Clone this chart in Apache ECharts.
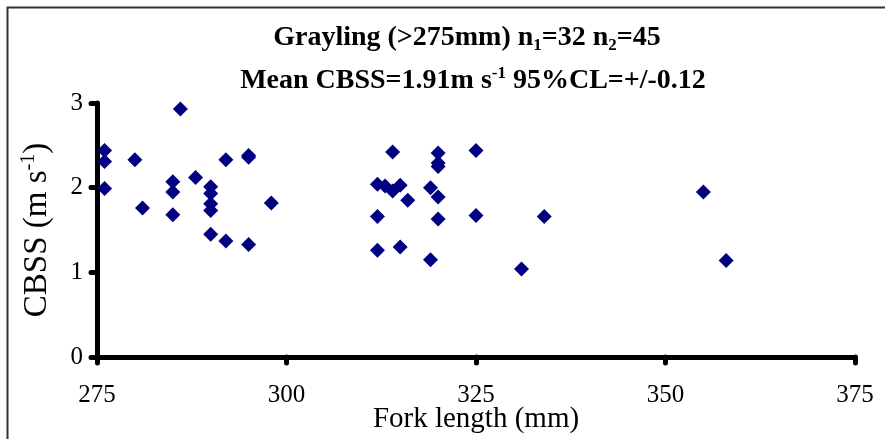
<!DOCTYPE html>
<html>
<head>
<meta charset="utf-8">
<script src="https://cdn.jsdelivr.net/npm/echarts@6/dist/echarts.min.js"></script>
<style>html,body{margin:0;padding:0;background:#fff}#c{width:885px;height:439px}</style>
</head>
<body>
<div id="c"></div>
<script>
var forkLength = [276, 276, 276, 280, 281, 285, 285, 285, 286, 288, 290, 290, 290, 290, 290, 292, 292, 295, 295, 295, 298,
  312, 312, 312, 313, 314, 314, 315, 315, 316, 319, 319, 320, 320, 320, 320, 320, 325, 325,
  331, 334, 355, 358];
var cbss = [2.44, 2.31, 1.99, 2.33, 1.76, 2.07, 1.95, 1.68, 2.93, 2.12, 2.01, 1.93, 1.81, 1.73, 1.45, 2.33, 1.37, 2.38, 2.36, 1.33, 1.82,
  2.04, 1.66, 1.26, 2.02, 2.42, 1.96, 2.03, 1.30, 1.85, 2.00, 1.15, 2.41, 2.29, 2.25, 1.89, 1.63, 2.44, 1.67,
  1.04, 1.66, 1.95, 1.14];
var xTicks = [275, 300, 325, 350, 375];
var yTicks = [0, 1, 2, 3];

var points = forkLength.map(function (x, i) { return [x, cbss[i]]; });
var chart = echarts.init(document.getElementById('c'));
var serif = '"Liberation Serif", "Times New Roman", serif';
chart.setOption({
  animation: false,
  backgroundColor: '#fff',
  title: [{
    text: 'Grayling (>275mm) n{sub|1}=32 n{sub|2}=45',
    left: 462, top: 17, textAlign: 'center',
    textStyle: {
      fontFamily: serif, fontWeight: 'bold', fontSize: 28, color: '#000', lineHeight: 32,
      rich: { sub: { fontFamily: serif, fontWeight: 'bold', fontSize: 17, verticalAlign: 'bottom', lineHeight: 22, padding: [10, 0, 0, 0] } }
    }
  }, {
    text: 'Mean CBSS=1.91m s{sup|-1} 95%CL=+/-0.12',
    left: 468, top: 60, textAlign: 'center',
    textStyle: {
      fontFamily: serif, fontWeight: 'bold', fontSize: 28, color: '#000', lineHeight: 32,
      rich: { sup: { fontFamily: serif, fontWeight: 'bold', fontSize: 17, verticalAlign: 'top', lineHeight: 22, padding: [0, 0, 10, 0] } }
    }
  }],
  graphic: [{
    type: 'rect', shape: { x: 7.5, y: 7.5, width: 1000, height: 1000 },
    style: { fill: 'none', stroke: '#333', lineWidth: 2 }, silent: true
  }],
  grid: { left: 97, right: 30, top: 103, bottom: 82, containLabel: false, outerBoundsMode: 'none' },
  xAxis: {
    type: 'value', min: xTicks[0], max: xTicks[xTicks.length - 1], interval: 25,
    name: 'Fork length (mm)', nameLocation: 'middle', nameGap: 48, nameMoveOverlap: false,
    nameTextStyle: { fontFamily: serif, fontSize: 29, color: '#000' },
    axisLine: { show: true, onZero: false, lineStyle: { color: '#000', width: 5, cap: 'round' } },
    axisTick: { show: true, length: 6, lineStyle: { color: '#000', width: 5, cap: 'round' } },
    axisLabel: { fontFamily: serif, fontSize: 25, color: '#000', margin: 26 },
    splitLine: { show: false }
  },
  yAxis: {
    type: 'value', min: yTicks[0], max: yTicks[yTicks.length - 1], interval: 1,
    name: 'CBSS (m s{sup|-1})', nameLocation: 'middle', nameGap: 42, nameRotate: 90, nameMoveOverlap: false,
    nameTextStyle: { fontFamily: serif, fontSize: 33, color: '#000', lineHeight: 36,
      rich: { sup: { fontFamily: serif, fontSize: 20, verticalAlign: 'top', lineHeight: 26, padding: [0, 0, 10, 0] } } },
    axisLine: { show: true, onZero: false, lineStyle: { color: '#000', width: 5, cap: 'round' } },
    axisTick: { show: true, length: 6, lineStyle: { color: '#000', width: 5, cap: 'round' } },
    axisLabel: { fontFamily: serif, fontSize: 25, color: '#000', margin: 14 },
    splitLine: { show: false }
  },
  series: [{
    type: 'scatter', data: points, symbol: 'diamond', symbolSize: 15,
    itemStyle: { color: '#000080', opacity: 1 }, clip: false
  }]
});
</script>
</body>
</html>
